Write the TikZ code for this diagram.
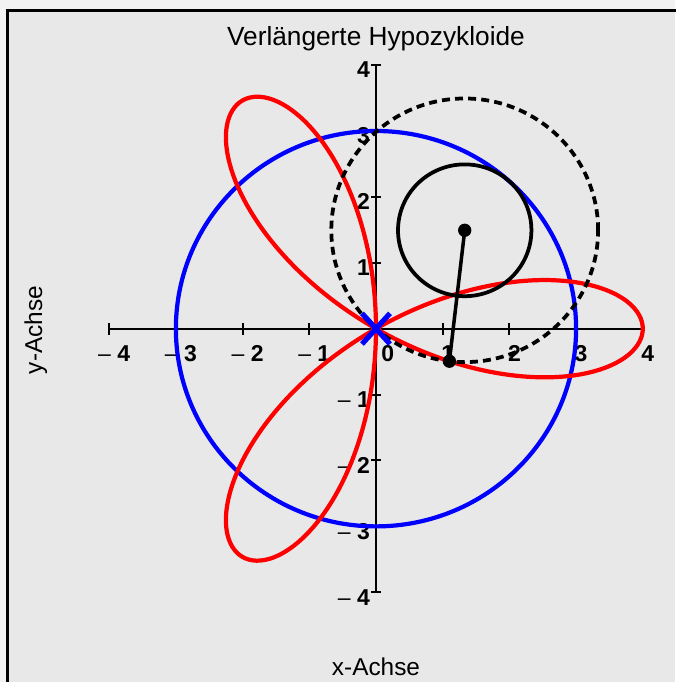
\documentclass[tikz,border=0pt]{standalone}
\usepackage{fontspec}
\setmainfont{Liberation Sans}
\usetikzlibrary{positioning}
\definecolor{pagebg}{RGB}{242,242,242}
\definecolor{plotbg}{RGB}{232,232,232}

\begin{document}
\begin{tikzpicture}[
  x=1cm, y=0.988cm,
  axis/.style={line width=0.85pt},
  xlab/.style={font=\bfseries\fontsize{9.8}{11}\selectfont, inner sep=0pt, xshift=0.075cm, yshift=-0.375cm},
  ylab/.style={font=\bfseries\fontsize{9.8}{11}\selectfont, inner sep=0pt, anchor=east, xshift=-0.085cm, yshift=-0.075cm},
  label/.style={font=\fontsize{10.4}{12}\selectfont, inner sep=0pt, anchor=base},
  fixcircle/.style={draw=blue, line width=1.8pt},
  curve/.style={draw=red, line width=1.8pt, line join=round},
  trace/.style={draw=black, line width=1.6pt, dash pattern=on 3.4pt off 2.2pt},
  rollcircle/.style={draw=black, line width=1.6pt},
  arm/.style={draw=black, line width=1.5pt},
  dot/.style={fill=black},
  cross/.style={draw=blue, line width=2.2pt}
]
\useasboundingbox (-5.637cm,-5.297cm) rectangle (4.483cm,4.928cm);
\fill[pagebg] (-5.637cm,-5.297cm) rectangle (4.483cm,4.928cm);
\fill[plotbg] (-5.522cm,-5.297cm) rectangle (4.483cm,4.766cm);
\draw[line width=1.3pt] (-5.522cm,-5.4cm) -- (-5.522cm,4.766cm) -- (4.6cm,4.766cm);

\node[label, font=\fontsize{11.2}{13}\selectfont] (title) at (0cm,4.253cm) {Verlängerte Hypozykloide};
\node[label] (xname) at (0cm,-5.192cm) {x-Achse};
\node[label, rotate=90] (yname) at (-5.007cm,-0.02cm) {y-Achse};

\draw[axis] (-4,0) -- (4,0);
\draw[axis] (0,-4) -- (0,4);
\foreach \i in {-4,-3,-2,-1,1,2,3,4} {
  \draw[axis] (\i,0) ++(0,-0.09cm) -- ++(0,0.18cm);
  \draw[axis] (0,\i) ++(-0.07cm,0) -- ++(0.15cm,0);
}
\foreach \i in {1,...,4} {
  \node[xlab] (xp\i) at (\i,0) {\i};
  \node[xlab] (xn\i) at (-\i,0) {{\mdseries\textendash}\ \i};
  \node[ylab] (yp\i) at (0,\i) {\i};
  \node[ylab] (yn\i) at (0,-\i) {{\mdseries\textendash}\ \i};
}
\node[xlab, xshift=0.1cm] (x0) at (0,0) {0};

\draw[fixcircle] (0,0) circle [radius=3];
\draw[curve] plot[domain=0:360, samples=241, smooth]
  ({2*cos(\x)+2*cos(2*\x)}, {2*sin(\x)-2*sin(2*\x)});

\coordinate (M) at ({2*cos(48.3)}, {2*sin(48.3)});
\coordinate (P) at ({2*cos(48.3)+2*cos(96.6)}, {2*sin(48.3)-2*sin(96.6)});
\draw[trace] (M) circle [radius=2];
\draw[rollcircle] (M) circle [radius=1];
\draw[arm] (M) -- (P);
\fill[dot] (M) circle [radius=0.1cm];
\fill[dot] (P) circle [radius=0.1cm];

\draw[cross] (-0.21cm,-0.23cm) -- (0.21cm,0.23cm);
\draw[cross] (-0.21cm,0.23cm) -- (0.21cm,-0.23cm);
\end{tikzpicture}
\end{document}
